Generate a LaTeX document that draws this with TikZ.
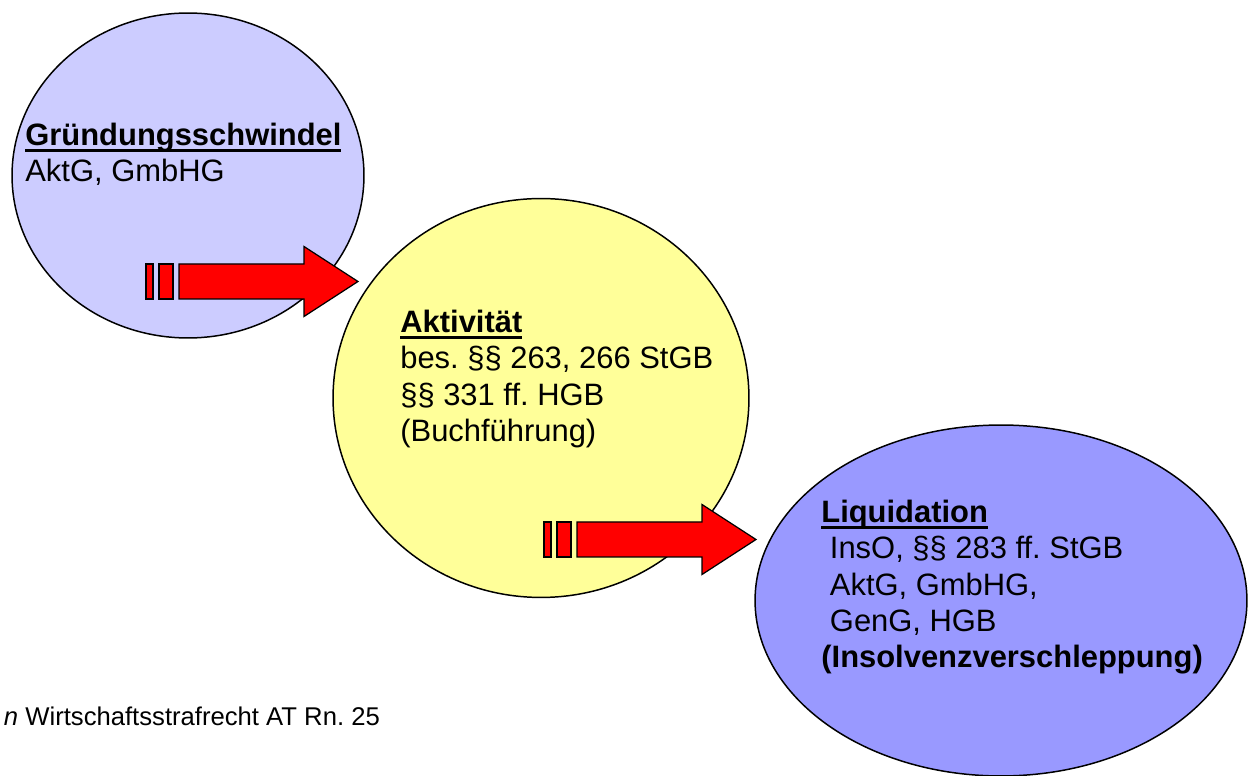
\documentclass[tikz,border=0pt]{standalone}
\usepackage{fontspec}
\setmainfont{Liberation Sans}
\usetikzlibrary{shapes.geometric}
\frenchspacing
\definecolor{lilac}{RGB}{204,204,255}
\definecolor{paleyellow}{RGB}{255,255,153}
\definecolor{violet}{RGB}{153,153,255}
\newcommand{\arrowcolor}{red}
\newsavebox{\titelbox}
\newcommand{\titel}[1]{\sbox\titelbox{\textbf{#1}}\rlap{\rule[-3.8pt]{\wd\titelbox}{2pt}}\usebox\titelbox}
% block arrow with two bars in front of it
\newcommand{\blockarrow}[1]{%
\begin{scope}[shift={(#1)}]
\draw[arrowpart] (-33,-17.5) rectangle (-26,17.5);
\draw[arrowpart] (-20,-17.5) rectangle (-6,17.5);
\draw[arrowpart] (0,-17.5) -- (125,-17.5) -- (125,-35) -- (179,0) -- (125,35) -- (125,17.5) -- (0,17.5) -- cycle;
\end{scope}}

\begin{document}
\begin{tikzpicture}[x=0.02cm, y=-0.02cm,
  phase/.style={ellipse, draw, line width=0.85pt, inner sep=0pt},
  textblock/.style={align=left, inner sep=0pt, anchor=north west, font=\fontsize{17.6}{20.6}\selectfont},
  arrowpart/.style={fill=\arrowcolor, draw=black, line width=0.7pt, line join=miter}]
\useasboundingbox (0,0) rectangle (1255,776);
\node[phase, fill=lilac, minimum width=7.04cm, minimum height=6.5cm] (gruendung) at (188,175.5) {};
\node[phase, fill=paleyellow, minimum width=8.32cm, minimum height=7.98cm] (aktivitaet) at (541,398) {};
\node[phase, fill=violet, minimum width=9.84cm, minimum height=7.02cm] (liquidation) at (1001,600.5) {};
%texts
\node[textblock] (gruendungtext) at (25,123) {\titel{Gründungsschwindel}\\AktG, GmbHG};
\node[textblock] (aktivitaettext) at (400,310) {\titel{Aktivität}\\bes. §§ 263, 266 StGB\\§§ 331 ff. HGB\\(Buchführung)};
\node[textblock] (liquidationtext) at (821,500) {\titel{Liquidation}\\\ InsO, §§ 283 ff. StGB\\\ AktG, GmbHG,\\\ GenG, HGB\\\textbf{(Insolvenzverschleppung)}};
%arrows
\coordinate (pfeilA) at (179,281.5);
\coordinate (pfeilB) at (577,539.5);
\blockarrow{pfeilA}
\blockarrow{pfeilB}
\node[anchor=base west, inner sep=0pt, font=\fontsize{14.6}{17}\selectfont] (quelle) at (25,725) {\llap{\textit{n}\ }Wirtschaftsstrafrecht AT Rn. 25};
\end{tikzpicture}
\end{document}
